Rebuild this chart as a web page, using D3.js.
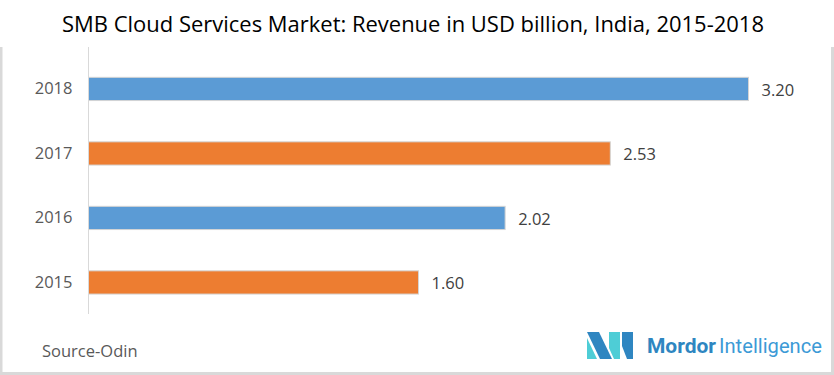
<!DOCTYPE html>
<html>
<head>
<meta charset="utf-8">
<script src="https://cdn.jsdelivr.net/npm/d3@7"></script>
<style>
  body { margin: 0; background: #fff; }
  svg { display: block; font-family: "Open Sans", "Noto Sans", sans-serif; }
</style>
</head>
<body>
<div id="chart"></div>
<script>
// chart data
var years = ["2018", "2017", "2016", "2015"];
var revenue = [3.20, 2.53, 2.02, 1.60];
var barColors = ["#5b9bd5", "#ed7d31", "#5b9bd5", "#ed7d31"];
var titleText = "SMB Cloud Services Market: Revenue in USD billion, India, 2015-2018";
var sourceText = "Source-Odin";

var outerWidth = 834,
    outerHeight = 375;

var svg = d3.select("#chart")
    .append("svg")
    .attr("width", outerWidth)
    .attr("height", outerHeight);

// frame (left, right, bottom only)
svg.append("path")
    .attr("d", "M1,47 V373.5 H832.5 V47")
    .attr("fill", "none")
    .attr("stroke", "#d9d9d9")
    .attr("stroke-width", 3);

// title
svg.append("text")
    .attr("x", 413)
    .attr("y", 32)
    .attr("text-anchor", "middle")
    .attr("textLength", 702)
    .attr("lengthAdjust", "spacingAndGlyphs")
    .style("font-size", "22px")
    .style("fill", "#000")
    .text(titleText);

var x = d3.scaleLinear()
    .domain([0, 3.5])
    .range([88.5, 88.5 + 206.25 * 3.5]);

var y = d3.scaleBand()
    .domain(years)
    .range([56.7, 314.7])
    .paddingInner(0.64)
    .paddingOuter(0.32);

var data = years.map(function(d, i) {
    return { year: d, value: revenue[i], color: barColors[i] };
});

// bars
svg.selectAll(".bar")
    .data(data)
    .enter().append("rect")
    .classed("bar", true)
    .attr("x", x(0))
    .attr("y", function(d) { return y(d.year); })
    .attr("width", function(d) { return x(d.value) - x(0); })
    .attr("height", y.bandwidth())
    .style("fill", function(d) { return d.color; })
    .style("stroke", "#d4d4d4")
    .style("stroke-width", 1);

// category axis
var yAxis = d3.axisLeft(y).tickSize(0).tickPadding(16);
var ya = svg.append("g")
    .attr("transform", "translate(" + x(0) + ",0)")
    .call(yAxis);
ya.select(".domain").remove();
ya.selectAll("text")
    .style("font-family", "\"Open Sans\", sans-serif")
    .style("font-size", "16.5px")
    .style("fill", "#595959");

svg.append("line")
    .attr("x1", x(0))
    .attr("x2", x(0))
    .attr("y1", 47)
    .attr("y2", 314)
    .style("stroke", "#d9d9d9")
    .style("stroke-width", 1);

// value labels
svg.selectAll(".val")
    .data(data)
    .enter().append("text")
    .classed("val", true)
    .attr("x", function(d) { return x(d.value) + 13; })
    .attr("y", function(d) { return y(d.year) + y.bandwidth() / 2 + 1; })
    .attr("dy", "0.35em")
    .style("font-size", "16.5px")
    .style("fill", "#404040")
    .text(function(d) { return d.value.toFixed(2); });

// source
svg.append("text")
    .attr("x", 42)
    .attr("y", 357)
    .style("font-size", "16.5px")
    .style("fill", "#595959")
    .text(sourceText);

// logo
var logo = svg.append("g").attr("transform", "translate(587,332)");
var pieces = [
    { pts: [[0, 6], [0, 27], [10, 27]], c: "#4ecdd6" },
    { pts: [[0, 0], [12, 0], [25, 27], [13, 27]], c: "#2f86c1" },
    { pts: [[22, 0], [33, 0], [33, 27], [27, 27], [22, 16]], c: "#4ecdd6" },
    { pts: [[35, 0], [46, 0], [46, 27], [40, 27], [35, 14]], c: "#2f86c1" }
];
logo.selectAll("polygon")
    .data(pieces)
    .enter().append("polygon")
    .attr("points", function(d) { return d.pts.map(function(p) { return p.join(","); }).join(" "); })
    .style("fill", function(d) { return d.c; });

svg.append("text")
    .attr("x", 647)
    .attr("y", 353)
    .attr("textLength", 69)
    .attr("lengthAdjust", "spacingAndGlyphs")
    .style("font-family", "Roboto, sans-serif")
    .style("font-weight", "bold")
    .style("font-size", "20px")
    .style("fill", "#2e86c1")
    .text("Mordor");
svg.append("text")
    .attr("x", 719)
    .attr("y", 353)
    .attr("textLength", 103)
    .attr("lengthAdjust", "spacingAndGlyphs")
    .style("font-family", "Roboto, sans-serif")
    .style("font-size", "20px")
    .style("fill", "#3c9ad6")
    .text("Intelligence");
</script>
</body>
</html>
